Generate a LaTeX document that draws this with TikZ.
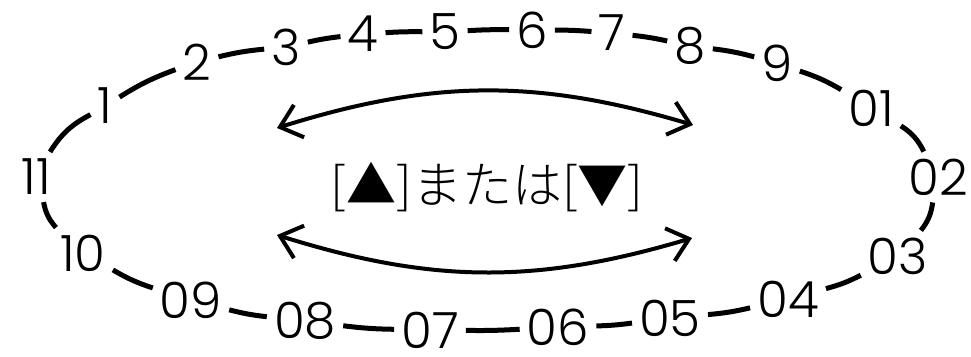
\documentclass[tikz,border=0pt]{standalone}
\usepackage{fontspec}
\setmainfont{Poppins}[UprightFont=* Light]
\newfontfamily\jpfont{Noto Sans CJK JP Light}
\usepackage{tikz}
\usetikzlibrary{arrows.meta}

\begin{document}
\begin{tikzpicture}[
    x=1pt, y=1pt,
    num/.style = {font=\fontsize{50}{50}\selectfont, inner sep=7pt},
    link/.style = {line width=5pt},
    swap/.style = {line width=4pt, {Straight Barb[length=20pt,width=34pt]}-{Straight Barb[length=20pt,width=34pt]}}
  ]
  \useasboundingbox (0,0) rectangle (971,356);

  % 数字の輪
  \node[num] (n1) at (105,250) {1};
  \node[num] (n2) at (197,294) {2};
  \node[num] (n3) at (286,309) {3};
  \node[num] (n4) at (363,322) {4};
  \node[num] (n5) at (445,324) {5};
  \node[num] (n6) at (532,326) {6};
  \node[num] (n7) at (612,323) {7};
  \node[num] (n8) at (690,310) {8};
  \node[num] (n9) at (777,293) {9};
  \node[num] (n01) at (871,248) {01};
  \node[num] (n02) at (938,179) {02};
  \node[num] (n03) at (898,100) {03};
  \node[num] (n04) at (788,57) {04};
  \node[num] (n05) at (670,38) {05};
  \node[num] (n06) at (558,29) {06};
  \node[num] (n07) at (430,26) {07};
  \node[num] (n08) at (305,35) {08};
  \node[num] (n09) at (191,56) {09};
  \node[num] (n10) at (83,103) {10};
  \node[num] (n11) at (36,179) {11};

  \foreach \a/\b/\t in {n1/n2/6, n2/n3/4, n3/n4/3, n4/n5/2, n5/n6/2, n6/n7/2,
      n7/n8/3, n8/n9/4, n9/n01/6, n01/n02/15, n02/n03/15, n03/n04/6,
      n04/n05/4, n05/n06/3, n06/n07/2, n07/n08/3, n08/n09/4, n09/n10/6,
      n10/n11/15, n11/n1/15}
    \draw[link] (\a) to[bend left=\t] (\b);

  % 中央
  \node[font=\jpfont\fontsize{50}{50}\selectfont, inner sep=0pt] (txt) at (487,169) {[▲]または[▼]};

  \coordinate (ul) at (277,228);
  \coordinate (ur) at (693,231);
  \coordinate (ll) at (277,121);
  \coordinate (lr) at (692,118);
  \draw[swap] (ul) to[bend left=17] (ur);
  \draw[swap] (ll) to[bend right=17] (lr);
\end{tikzpicture}
\end{document}
